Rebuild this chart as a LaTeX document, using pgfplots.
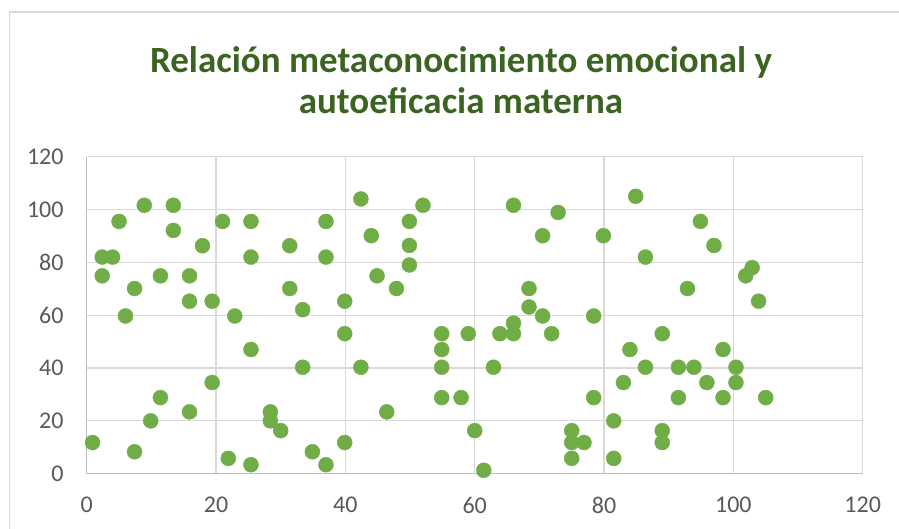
\documentclass[border=0pt]{standalone}
\usepackage{pgfplots}
\pgfplotsset{compat=1.18}
\usepackage{fontspec}
\setmainfont{Carlito}
\definecolor{titlegreen}{HTML}{3B6321}
\definecolor{markgreen}{HTML}{70AD47}
\definecolor{gridgray}{HTML}{D9D9D9}
\definecolor{axisgray}{HTML}{BFBFBF}
\definecolor{labelgray}{HTML}{595959}
\begin{document}
\begin{tikzpicture}
\useasboundingbox (0,0) rectangle (899pt,529pt);
\draw[gridgray, line width=1.6pt] (9.5pt,-10pt) -- (9.5pt,516.7pt) -- (920pt,516.7pt);
\node[align=center, text=titlegreen, font=\fontsize{37}{41}\selectfont\bfseries] at (461pt,449pt)
  {Relación metaconocimiento emocional y\\autoeficacia materna};
\begin{axis}[
  scale only axis,
  width=776pt, height=317pt,
  at={(86.7pt,55.3pt)}, anchor=south west,
  xmin=0, xmax=120, ymin=0, ymax=120,
  xtick={0,20,...,120}, ytick={0,20,...,120},
  grid=major,
  major grid style={gridgray, line width=1.2pt},
  axis line style={draw=none},
  major tick length=0pt,
  tick style={draw=none},
  /pgf/number format/assume math mode=true,
  tick label style={font=\fontsize{24}{28}\selectfont, text=labelgray, inner sep=0pt},
  yticklabel style={anchor=east, xshift=-23pt},
  xticklabel style={anchor=north, yshift=-23pt},
  clip=false,
]
\draw[axisgray, line width=1.3pt] (axis cs:0,0) -- (axis cs:120,0);
\draw[axisgray, line width=1.3pt] (axis cs:0,0) -- (axis cs:0,120);
\addplot[only marks, mark=*, mark size=7.5pt, color=markgreen, mark options={draw=markgreen, fill=markgreen}] coordinates {
(2.4,82) (4.0,82) (5.0,95.5) (8.9,101.6) (13.4,101.6) (13.4,92.1) (17.9,86.3)
(21.0,95.5) (25.4,95.5) (25.4,82) (31.4,86.3) (2.4,74.9) (11.4,74.9) (15.9,74.9)
(7.4,70.1) (31.4,70.1) (15.9,65.3) (19.4,65.3) (6.0,59.7) (22.9,59.7) (33.4,62.1)
(25.4,47.0) (33.4,40.3) (19.4,34.5) (11.4,28.8) (15.9,23.4) (9.9,20.0) (0.9,11.8)
(7.4,8.3) (21.9,5.8) (25.4,3.4) (28.4,23.4) (28.4,20.0) (30.0,16.3)
(37.0,95.5) (42.4,104.0) (52.0,101.6) (49.9,95.5) (44.0,90.1) (49.9,86.4) (37.0,82)
(49.9,79.0) (44.9,74.9) (47.9,70.1) (39.9,65.3)
(66.0,101.6) (72.9,98.9) (70.5,90.1) (68.4,70.1) (68.4,63.1) (70.5,59.7) (66.0,57.0)
(39.9,53) (54.9,53) (59.0,53) (63.9,53) (66.0,53) (71.9,53)
(54.9,47.0) (42.4,40.3) (54.9,40.3) (62.9,40.3) (54.9,28.8) (57.9,28.8) (46.4,23.4)
(39.9,11.8) (34.9,8.3) (37.0,3.4) (60.0,16.3) (61.4,1.3)
(75.0,16.3) (75.0,11.8) (75.0,5.8) (76.9,11.8)
(84.9,105.0) (94.9,95.5) (97.0,86.4) (79.9,90.1) (86.4,82.0) (102.9,78.0) (101.9,74.9)
(92.9,70.1) (103.9,65.3) (78.4,59.7) (89.0,53.0) (84.0,47.0) (98.4,47.0)
(86.4,40.3) (91.5,40.3) (93.9,40.3) (100.4,40.3) (83.0,34.5) (95.9,34.5) (100.4,34.5)
(78.4,28.8) (91.5,28.8) (98.4,28.8) (105.0,28.8) (81.5,20.0)
(89.0,16.3) (89.0,11.8) (81.5,5.8)
};
\end{axis}
\end{tikzpicture}
\end{document}
